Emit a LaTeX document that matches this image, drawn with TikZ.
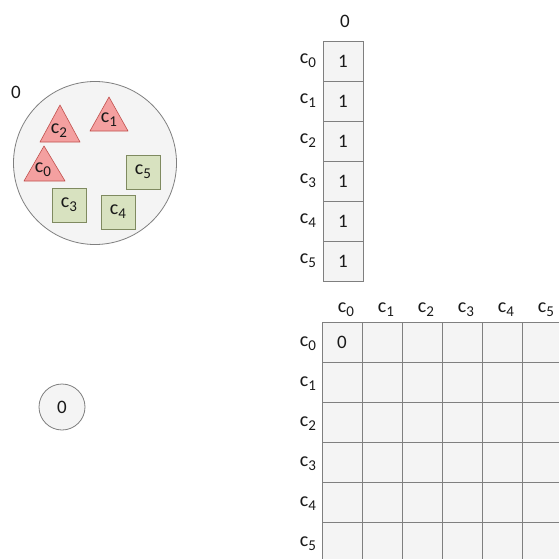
\documentclass[tikz,border=0pt]{standalone}
\usepackage{fontspec}
\setmainfont{Carlito}
\usetikzlibrary{positioning}
\definecolor{trifill}{HTML}{F4A0A0}
\definecolor{tridraw}{HTML}{C0504D}
\definecolor{sqfill}{HTML}{D8E2C0}
\definecolor{sqdraw}{HTML}{7F8A60}
\definecolor{cellfill}{HTML}{F4F4F4}
\definecolor{celldraw}{HTML}{7F7F7F}
\newcommand\csub[1]{{\fontsize{20pt}{20pt}\selectfont c}\raisebox{-4pt}{\fontsize{15pt}{15pt}\selectfont #1}}
\tikzset{
  lbl/.style={font=\fontsize{19pt}{19pt}\selectfont, inner sep=0pt, text=black!90},
  cellbox/.style={draw=celldraw, fill=cellfill, minimum width=40pt, minimum height=40pt, inner sep=0pt, font=\fontsize{19pt}{19pt}\selectfont, text=black!90, line width=0.8pt},
  tri/.style={fill=trifill, draw=tridraw, line width=0.6pt, line join=round},
  sq/.style={fill=sqfill, draw=sqdraw, line width=0.8pt, minimum width=34pt, minimum height=34pt, inner sep=0pt, font=\fontsize{19pt}{19pt}\selectfont, text=black!90},
  bigcirc/.style={circle, draw=celldraw, fill=cellfill, line width=0.8pt, inner sep=0pt}
}
\begin{document}
\begin{tikzpicture}[x=1pt,y=-1pt]
\useasboundingbox (0,0) rectangle (558,559);
% big circle
\node[bigcirc, minimum size=163pt] (cloud) at (95,163) {};
\node[lbl] (cloudlbl) at (16,92) {0};
% triangles
\draw[tri] (60,105) -- (80,142) -- (40,142) -- cycle;
\node[lbl] (t2) at (59,131) {\csub{2}};
\draw[tri] (109,97) -- (128,131) -- (90,131) -- cycle;
\node[lbl] (t1) at (109,120) {\csub{1}};
\draw[tri] (44,146) -- (65,181) -- (24,181) -- cycle;
\node[lbl] (t0) at (43,170) {\csub{0}};
% squares
\node[sq] (s5) at (143,172) {\csub{5}};
\node[sq] (s3) at (69,205) {\csub{3}};
\node[sq] (s4) at (118,212) {\csub{4}};
% small circle
\node[bigcirc, minimum size=46pt, font=\fontsize{19pt}{19pt}\selectfont, text=black!90] (small) at (62,407) {0};
% column vector
\node[lbl] (vhead) at (345,21) {0};
\foreach \i in {0,...,5}{
  \node[cellbox] (v\i) at (343,{61+40*\i}) {1};
  \node[lbl] (vl\i) at (308,{61+40*\i}) {\csub{\i}};
}
% matrix
\foreach \j in {0,...,5}{
  \node[lbl] (mh\j) at ({346+40*\j},310) {\csub{\j}};
}
\foreach \i in {0,...,5}{
  \node[lbl] (ml\i) at (308,{344+40*\i}) {\csub{\i}};
  \foreach \j in {0,...,5}{
    \node[cellbox] (m\i\j) at ({342+40*\j},{342+40*\i}) {};
  }
}
\node[lbl] at (m00) {0};
\end{tikzpicture}
\end{document}
